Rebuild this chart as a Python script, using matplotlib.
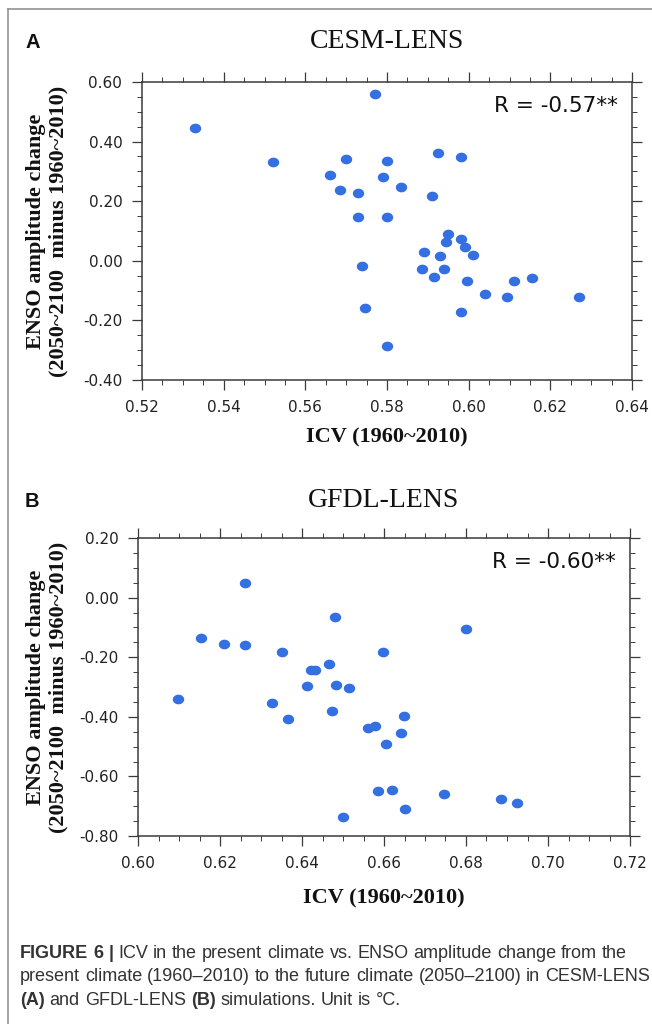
import numpy as np
import matplotlib
matplotlib.use("Agg")
import matplotlib.pyplot as plt
from matplotlib.path import Path
from matplotlib.lines import Line2D
from matplotlib.ticker import MultipleLocator, FormatStrFormatter

# panel A: CESM-LENS
icv_a = [0.533, 0.552, 0.577, 0.570, 0.580, 0.566, 0.579, 0.5685, 0.573, 0.573,
         0.580, 0.574, 0.5745, 0.580, 0.5925, 0.598, 0.5835, 0.591, 0.595, 0.5945,
         0.598, 0.599, 0.601, 0.589, 0.593, 0.5885, 0.594, 0.5915, 0.5997, 0.611,
         0.6155, 0.604, 0.6095, 0.627, 0.598]
amp_a = [0.447, 0.331, 0.561, 0.343, 0.334, 0.289, 0.282, 0.239, 0.228, 0.146,
         0.146, -0.018, -0.160, -0.285, 0.362, 0.349, 0.247, 0.217, 0.090, 0.062,
         0.074, 0.047, 0.021, 0.030, 0.017, -0.026, -0.026, -0.054, -0.068, -0.068,
         -0.059, -0.111, -0.123, -0.123, -0.172]

# panel B: GFDL-LENS
icv_b = [0.626, 0.648, 0.6153, 0.621, 0.626, 0.635, 0.6597, 0.6466, 0.6423, 0.6431,
         0.6411, 0.6484, 0.6515, 0.6098, 0.6326, 0.6474, 0.6367, 0.656, 0.6579, 0.6605,
         0.6585, 0.6501, 0.680, 0.6649, 0.6642, 0.662, 0.6651, 0.6746, 0.6886, 0.6924]
amp_b = [0.048, -0.064, -0.134, -0.155, -0.158, -0.181, -0.182, -0.224, -0.243, -0.243,
         -0.298, -0.292, -0.302, -0.340, -0.353, -0.379, -0.407, -0.438, -0.432, -0.490,
         -0.648, -0.737, -0.107, -0.398, -0.453, -0.646, -0.710, -0.660, -0.676, -0.689]

titles = ["CESM-LENS", "GFDL-LENS"]
letters = ["A", "B"]
r_texts = ["R = -0.57**", "R = -0.60**"]
xlims = [(0.52, 0.64), (0.60, 0.72)]
ylims = [(-0.40, 0.60), (-0.80, 0.20)]

W, H = 652, 1024
fig = plt.figure(figsize=(W / 100, H / 100), dpi=100)
fig.patch.set_facecolor("white")

def fx(px):
    return px / W

def fy(py):
    return 1 - py / H

# slightly wide ellipse marker
th = np.linspace(0, 2 * np.pi, 60)
ell = Path(np.column_stack([np.cos(th), 0.85 * np.sin(th)]))

dot_col = "#3570e3"
ax_col = "#3a3a3a"
serif = "Liberation Serif"

# axes boxes in pixels: left, top, right, bottom
boxes = [(142, 82, 632, 380), (138, 538, 630, 836)]
xlab_y = [437, 898]
letter_base = [48, 507]

data = [(icv_a, amp_a), (icv_b, amp_b)]
for i in range(2):
    l, t, r, b = boxes[i]
    ax = fig.add_axes([fx(l), fy(b), fx(r) - fx(l), (b - t) / H])
    x, y = data[i]
    ax.plot(x, y, linestyle="none", marker=ell, markersize=8.2,
            color=dot_col, markeredgewidth=0)
    ax.set_xlim(*xlims[i])
    ax.set_ylim(*ylims[i])
    ax.xaxis.set_major_locator(MultipleLocator(0.02))
    ax.xaxis.set_minor_locator(MultipleLocator(0.005))
    ax.yaxis.set_major_locator(MultipleLocator(0.2))
    ax.yaxis.set_minor_locator(MultipleLocator(0.05))
    ax.xaxis.set_major_formatter(FormatStrFormatter("%.2f"))
    ax.yaxis.set_major_formatter(FormatStrFormatter("%.2f"))
    ax.tick_params(which="both", direction="out", top=True, right=True,
                   colors=ax_col, labelcolor="#222222")
    ax.tick_params(which="major", length=7.2, width=0.9, labelsize=11, pad=7)
    ax.tick_params(which="minor", length=3.6, width=0.7)
    for sp in ax.spines.values():
        sp.set_color(ax_col)
        sp.set_linewidth(1.1)
    ax.text(0.972, 0.90, r_texts[i], transform=ax.transAxes, ha="right",
            va="baseline", fontsize=15.5, color="#111111")

    cx = (l + r) / 2
    cy = (t + b) / 2
    fig.text(fx(cx), fy(letter_base[i]), titles[i], ha="center", va="baseline",
             family=serif, fontsize=20, color="#111111")
    fig.text(fx(25), fy(letter_base[i]), letters[i], ha="left", va="baseline",
             family="Liberation Sans", fontweight="bold", fontsize=14.5, color="#111111")
    fig.text(fx(cx), fy(xlab_y[i]), "ICV (1960~2010)", ha="center", va="center",
             family=serif, fontweight="bold", fontsize=16, color="#111111")
    fig.text(fx(36), fy(cy), "ENSO amplitude change", rotation=90, ha="center",
             va="center", family=serif, fontweight="bold", fontsize=16, color="#111111")
    fig.text(fx(58), fy(cy), "(2050~2100  minus 1960~2010)", rotation=90, ha="center",
             va="center", family=serif, fontweight="bold", fontsize=16, color="#111111")

# frame lines of the figure panel
fig.add_artist(Line2D([fx(7.7), 1.0], [fy(8.5), fy(8.5)], transform=fig.transFigure,
                      color="#8a8a8a", lw=1.1))
fig.add_artist(Line2D([fx(7.7), fx(7.7)], [fy(8.5), 0.0], transform=fig.transFigure,
                      color="#8a8a8a", lw=1.1))

# caption with bold pieces
cap_size = 13
cap_col = "#333333"
renderer = fig.canvas.get_renderer()

def text_w(s, bold):
    t = fig.text(0, 0, s, fontsize=cap_size, family="Liberation Sans",
                 fontweight="bold" if bold else "normal")
    w = t.get_window_extent(renderer).width
    t.remove()
    return w

space_w = text_w("a a", False) - text_w("aa", False)

def rich_line(px, base, parts):
    x = px
    for k, (s, bold) in enumerate(parts):
        words = s.split(" ")
        for j, wd in enumerate(words):
            if wd:
                t = fig.text(fx(x), fy(base), wd, fontsize=cap_size, family="Liberation Sans",
                             fontweight="bold" if bold else "normal", color=cap_col,
                             ha="left", va="baseline")
                x += t.get_window_extent(renderer).width
            if j < len(words) - 1:
                x += space_w

rich_line(20, 958, [("FIGURE 6 |", True),
                    (" ICV in the present climate vs. ENSO amplitude change from the", False)])
rich_line(20, 981, [("present climate (1960\u20132010) to the future climate (2050\u20132100) in CESM-LENS", False)])
rich_line(20, 1005, [("(A)", True), (" and GFDL-LENS ", False), ("(B)", True),
                     (" simulations. Unit is \u00b0C.", False)])

fig.savefig("out.png", dpi=100)
